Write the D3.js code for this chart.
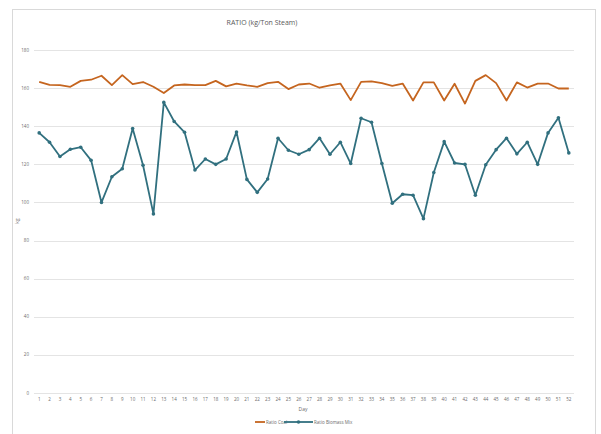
<!DOCTYPE html>
<meta charset="utf-8">
<style>
body { margin: 0; background: #fff; }
text { font-family: "Open Sans", "Liberation Sans", sans-serif; fill: #6b6b6b; }
.grid line { stroke: #e4e4e4; stroke-width: 1px; }
</style>
<svg id="chart" width="601" height="434"></svg>
<script src="https://cdn.jsdelivr.net/npm/d3@7"></script>
<script>
var days = d3.range(1, 53);
var yTicks = [0, 20, 40, 60, 80, 100, 120, 140, 160, 180];
var coal = [163.3, 161.7, 161.6, 160.7, 163.8, 164.4, 166.5, 161.6, 166.8, 162.1,
  163.2, 160.7, 157.4, 161.4, 161.9, 161.6, 161.6, 163.8, 160.9, 162.4,
  161.4, 160.7, 162.6, 163.3, 159.5, 161.9, 162.4, 160.2, 161.4, 162.4,
  153.7, 163.3, 163.5, 162.6, 161.2, 162.4, 153.5, 163.0, 163.0, 153.5,
  162.3, 151.9, 163.8, 166.8, 162.6, 153.5, 163.0, 160.3, 162.4, 162.4,
  159.8, 159.8];
var biomass = [136.5, 131.6, 124.1, 127.9, 129.0, 122.1, 100.0, 113.5, 117.7, 138.8,
  119.5, 94.0, 152.5, 142.5, 136.8, 117.0, 122.8, 120.0, 122.8, 137.0,
  112.1, 105.3, 112.3, 133.7, 127.4, 125.3, 127.7, 133.7, 125.3, 131.6,
  120.4, 144.2, 142.1, 120.4, 99.6, 104.3, 103.8, 91.5, 115.7, 131.9,
  120.7, 120.0, 103.8, 119.8, 127.7, 133.7, 125.5, 131.6, 120.0, 136.5,
  144.4, 126.0];

var svg = d3.select("#chart");

// chart area frame
svg.append("rect")
    .attr("x", 12.5).attr("y", 9.5)
    .attr("width", 583).attr("height", 440)
    .attr("fill", "none")
    .attr("stroke", "#d9d9d9");

var x = d3.scaleBand()
    .domain(days)
    .range([34, 574]);
var y = d3.scaleLinear()
    .domain([0, 180])
    .range([393, 50]);

// gridlines
svg.append("g")
    .attr("class", "grid")
  .selectAll("line")
  .data(yTicks)
  .enter().append("line")
    .attr("x1", 34).attr("x2", 574)
    .attr("y1", function(d) { return Math.round(y(d)) + 0.5; })
    .attr("y2", function(d) { return Math.round(y(d)) + 0.5; });

// y axis labels
svg.append("g")
  .selectAll("text")
  .data(yTicks)
  .enter().append("text")
    .attr("x", 29)
    .attr("y", function(d) { return y(d); })
    .attr("dy", "0.35em")
    .attr("text-anchor", "end")
    .style("font-size", "4.5px")
    .text(function(d) { return d; });

// x axis labels
svg.append("g")
  .selectAll("text")
  .data(days)
  .enter().append("text")
    .attr("x", function(d) { return x(d) + x.bandwidth() / 2; })
    .attr("y", 401)
    .attr("text-anchor", "middle")
    .style("font-size", "4.5px")
    .text(function(d) { return d; });

var line = d3.line()
    .x(function(d, i) { return x(days[i]) + x.bandwidth() / 2; })
    .y(function(d) { return y(d); });

svg.append("path")
    .datum(coal)
    .attr("fill", "none")
    .attr("stroke", "#c5651f")
    .attr("stroke-width", 1.8)
    .attr("stroke-linejoin", "round")
    .attr("d", line);

svg.append("path")
    .datum(biomass)
    .attr("fill", "none")
    .attr("stroke", "#31707f")
    .attr("stroke-width", 1.8)
    .attr("stroke-linejoin", "round")
    .attr("d", line);

svg.append("g")
  .selectAll("circle")
  .data(biomass)
  .enter().append("circle")
    .attr("cx", function(d, i) { return x(days[i]) + x.bandwidth() / 2; })
    .attr("cy", function(d) { return y(d); })
    .attr("r", 1.8)
    .attr("fill", "#31707f");

// titles
svg.append("text")
    .attr("x", 262).attr("y", 25)
    .attr("text-anchor", "middle")
    .style("font-size", "7px")
    .style("fill", "#595959")
    .text("RATIO (kg/Ton Steam)");

svg.append("text")
    .attr("x", 303).attr("y", 411)
    .attr("text-anchor", "middle")
    .style("font-size", "5px")
    .text("Day");

svg.append("text")
    .attr("transform", "translate(19,221) rotate(-90)")
    .attr("text-anchor", "middle")
    .style("font-size", "5px")
    .text("kg");

// legend
var lg = svg.append("g");
lg.append("line")
    .attr("x1", 255).attr("x2", 265).attr("y1", 422).attr("y2", 422)
    .attr("stroke", "#c5651f").attr("stroke-width", 1.8);
lg.append("text")
    .attr("x", 266).attr("y", 422).attr("dy", "0.35em")
    .style("font-size", "4.5px")
    .text("Ratio Coal");
lg.append("line")
    .attr("x1", 284).attr("x2", 313).attr("y1", 422).attr("y2", 422)
    .attr("stroke", "#31707f").attr("stroke-width", 1.8);
lg.append("circle")
    .attr("cx", 298.5).attr("cy", 422).attr("r", 1.8)
    .attr("fill", "#31707f");
lg.append("text")
    .attr("x", 314).attr("y", 422).attr("dy", "0.35em")
    .style("font-size", "4.5px")
    .text("Ratio Biomass Mix");
</script>
